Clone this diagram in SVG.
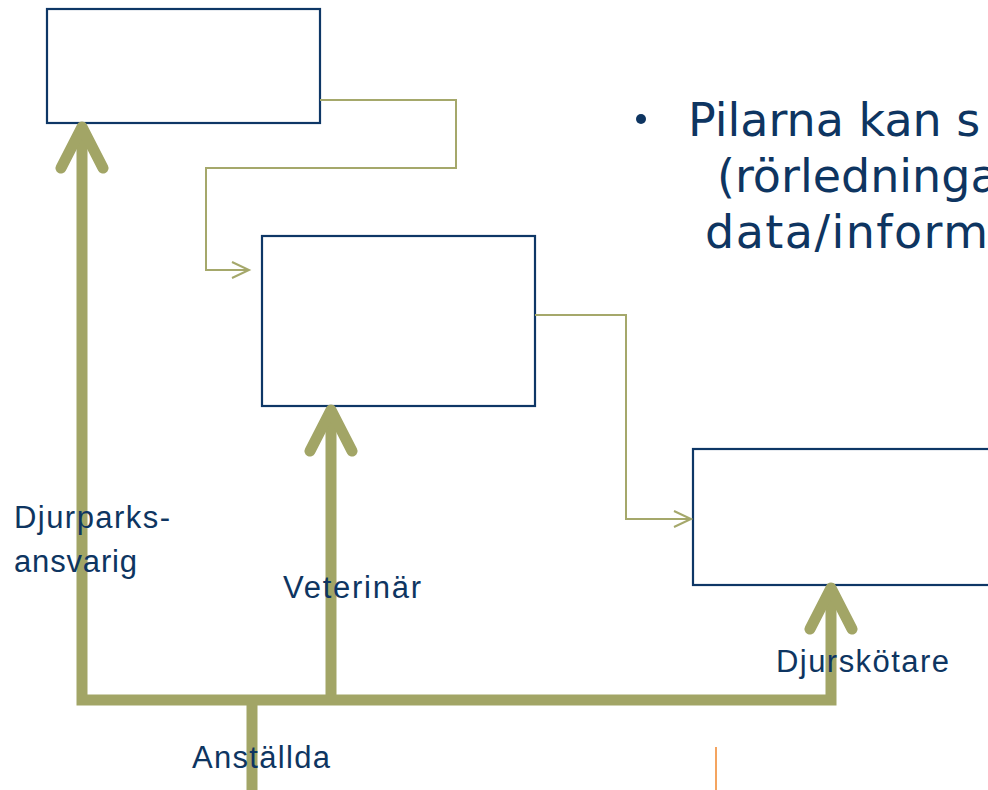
<svg xmlns="http://www.w3.org/2000/svg" width="988" height="790" viewBox="0 0 988 790">
<style>
.box{fill:#fff;stroke:#0e3766;stroke-width:2.2}
.thick{fill:none;stroke:#a2a566;stroke-width:11;stroke-linejoin:miter}
.head{fill:none;stroke:#a2a566;stroke-width:11;stroke-linecap:round;stroke-linejoin:round}
.thin{fill:none;stroke:#a5a86b;stroke-width:2}
.lbl{font-family:"Liberation Sans",Arial,sans-serif;font-size:31px;fill:#0e3561}
.big{font-family:"DejaVu Sans",Verdana,sans-serif;font-size:46px;fill:#0e3561}
</style>
<rect width="988" height="790" fill="#fff"/>
<g id="box-top"><rect class="box" x="47" y="9" width="273" height="114"/></g>
<g id="box-mid"><rect class="box" x="262" y="236" width="273" height="170"/></g>
<g id="box-right"><rect class="box" x="693" y="449" width="320" height="136"/></g>
<g id="connectors">
<path class="thin" d="M320,100 H456 V168 H206 V270 H249"/>
<path class="thin" d="M232,262 L249,270 L232,278"/>
<path class="thin" d="M535,315 H626 V519 H691"/>
<path class="thin" d="M674,511 L691,519 L674,527"/>
<path class="thick" d="M82,128 V700 H831 V588"/>
<path class="thick" d="M331,700 V410"/>
<path class="thick" d="M252,700 V790"/>
<path class="head" d="M61,168 L82,127 L103,168"/>
<path class="head" d="M310,451 L331,410 L352,451"/>
<path class="head" d="M810,629 L831,588 L852,629"/>
<line x1="716" y1="747" x2="716" y2="790" stroke="#f4a460" stroke-width="2"/>
</g>
<g id="labels">
<text class="lbl" x="14" y="528" textLength="156" lengthAdjust="spacing">Djurparks-</text>
<text class="lbl" x="14" y="572" textLength="123" lengthAdjust="spacing">ansvarig</text>
<text class="lbl" x="283" y="598" textLength="138" lengthAdjust="spacing">Veterinär</text>
<text class="lbl" x="776" y="672" textLength="173" lengthAdjust="spacing">Djurskötare</text>
<text class="lbl" x="192" y="768" textLength="138" lengthAdjust="spacing">Anställda</text>
</g>
<g id="bullet-text">
<circle cx="641" cy="119" r="5" fill="#0e3561"/>
<text class="big" x="688" y="136">Pilarna kan s</text>
<text class="big" x="717" y="192">(rörledninga</text>
<text class="big" x="705" y="248" textLength="283" lengthAdjust="spacing">data/inform</text>
</g>
</svg>
